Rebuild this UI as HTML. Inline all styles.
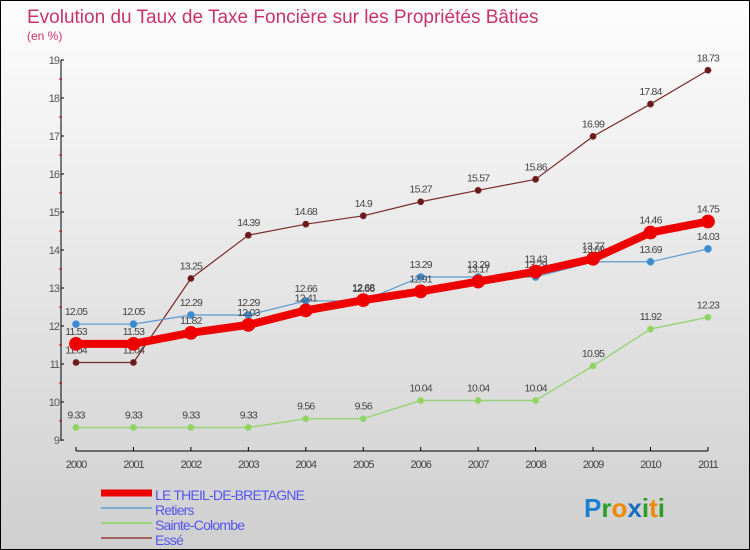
<!DOCTYPE html>
<html><head><meta charset="utf-8"><style>
body{margin:0}
#c{width:748px;height:548px;border:1px solid #000;background:linear-gradient(#fdfdfd,#cfcfcf);position:relative;font-family:"Liberation Sans",sans-serif;overflow:hidden}
</style></head><body>
<div id="c">
<svg id="s" width="748" height="548"></svg>
</div>
<script>
const years=["2000","2001","2002","2003","2004","2005","2006","2007","2008","2009","2010","2011"];
const theil=[11.53,11.53,11.82,12.03,12.41,12.68,12.91,13.17,13.43,13.77,14.46,14.75];
const retiers=[12.05,12.05,12.29,12.29,12.66,12.66,13.29,13.29,13.29,13.69,13.69,14.03];
const colombe=[9.33,9.33,9.33,9.33,9.56,9.56,10.04,10.04,10.04,10.95,11.92,12.23];
const esse=[11.04,11.04,13.25,14.39,14.68,14.9,15.27,15.57,15.86,16.99,17.84,18.73];
const yTicks=[9,10,11,12,13,14,15,16,17,18,19];
const NS="http://www.w3.org/2000/svg",s=document.getElementById('s');
const X=i=>75+i*57.45, Y=v=>439-(v-9)*38;
function el(t,a,txt){const e=document.createElementNS(NS,t);for(const k in a)e.setAttribute(k,a[k]);if(txt!==undefined)e.textContent=txt;s.appendChild(e);return e;}
let e=el('text',{x:26,y:22,fill:'#c8336a','font-size':19},'Evolution du Taux de Taxe Foncière sur les Propriétés Bâties');

e=el('text',{x:26,y:39,fill:'#c8336a','font-size':12},'(en %)');

e=el('line',{x1:60,y1:59,x2:60,y2:440,stroke:'#000'});

e=el('line',{x1:75,y1:450,x2:707,y2:450,stroke:'#000'});

yTicks.forEach(v=>{el('line',{x1:60,y1:Y(v),x2:63,y2:Y(v),stroke:'#000'});
 if(v<19){const m=el('line',{x1:58,y1:Y(v+0.5),x2:61,y2:Y(v+0.5),stroke:'#d00'});}
 e=el('text',{x:58,y:Y(v)+4,'text-anchor':'end','font-size':11,fill:'#555','letter-spacing':'-1'},v);
 });
years.forEach((y,i)=>{el('line',{x1:X(i),y1:446,x2:X(i),y2:450,stroke:'#000'});
 e=el('text',{x:X(i),y:467,'text-anchor':'middle','font-size':11,fill:'#444','letter-spacing':'-1'},y);
 });
function series(d,col,w,r,fill,name){
 const p=el('polyline',{points:d.map((v,i)=>X(i)+','+Y(v)).join(' '),fill:'none',stroke:col,'stroke-width':w,'stroke-linejoin':'round'});
 
 d.forEach((v,i)=>{const c=el('circle',{cx:X(i),cy:Y(v),r:r,fill:fill,stroke:col,'stroke-width':0.8});
  
  const t=el('text',{x:X(i),y:Y(v)-9,'text-anchor':'middle','font-size':10.5,fill:'#444','letter-spacing':'-0.8'},v.toFixed(2).replace(/0$/,'').replace(/\.$/,''));
  });
}
series(esse,'#7a2a2a',1.2,3,'#6b1a1a','esse');
series(colombe,'#99d47a',1.5,3,'#8fd45c','sainte-colombe');
series(retiers,'#5a9ad0',1.2,3.5,'#3a8ad0','retiers');
series(theil,'#ee0000',8,6.5,'#ee0000','theil');
const leg=[['LE THEIL-DE-BRETAGNE','#ee0000',7],['Retiers','#7aaad0',2],['Sainte-Colombe','#9ad47a',2],['Essé','#a06060',2]];
leg.forEach((l,i)=>{const y=492+i*15;
 e=el('line',{x1:100,y1:y,x2:151,y2:y,stroke:l[1],'stroke-width':l[2]});
 
 e=el('text',{x:154,y:y+7,'font-size':14,fill:'#5555ee','letter-spacing':'-0.8'},l[0]);
 });
e=el('text',{x:583,y:516,'font-size':26,'font-weight':'bold'});

[['P','#1a7fd0'],['r','#2aa02a'],['o','#ee8800'],['x','#1a6fc0'],['i','#2aa02a'],['t','#ee8800'],['i','#2aa02a']].forEach(c=>{const t=document.createElementNS(NS,'tspan');t.setAttribute('fill',c[1]);t.textContent=c[0];e.appendChild(t);});
</script>
</body></html>
